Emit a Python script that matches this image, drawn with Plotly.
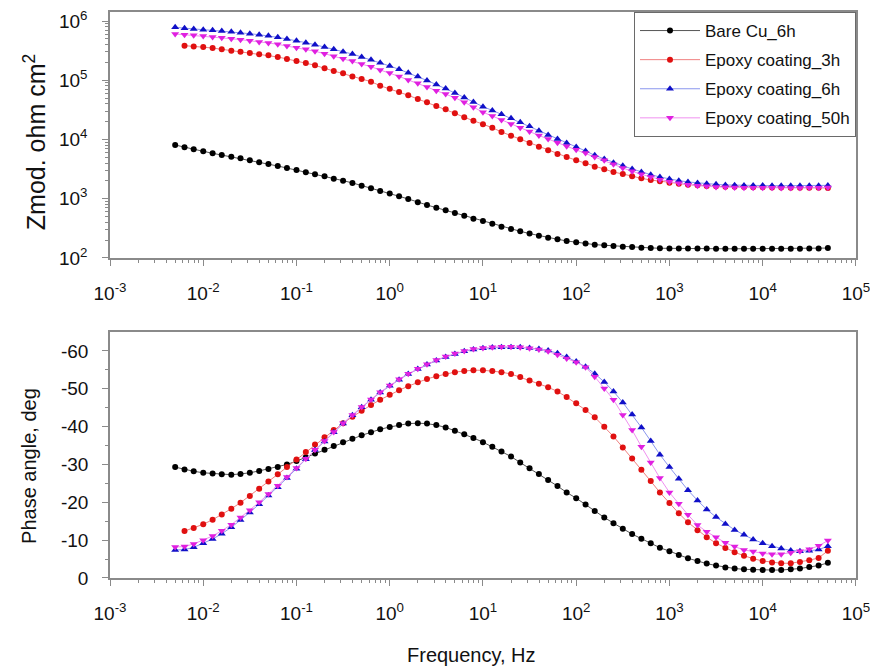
import plotly.graph_objects as go

# ---------------- data ----------------
freq = [0.005, 0.0063, 0.0079, 0.01, 0.0126, 0.0158, 0.02, 0.0251, 0.0316, 0.0398,
        0.05, 0.063, 0.079, 0.1, 0.126, 0.158, 0.2, 0.251, 0.316, 0.398,
        0.5, 0.63, 0.79, 1.0, 1.26, 1.58, 2.0, 2.51, 3.16, 3.98,
        5.0, 6.3, 7.9, 10, 12.6, 15.8, 20, 25.1, 31.6, 39.8,
        50, 63, 79, 100, 126, 158, 200, 251, 316, 398,
        500, 630, 790, 1000, 1260, 1580, 2000, 2510, 3160, 3980,
        5000, 6300, 7900, 10000, 12600, 15800, 20000, 25100, 31600, 39800,
        50000]

series_names = ["Bare Cu_6h", "Epoxy coating_3h", "Epoxy coating_6h", "Epoxy coating_50h"]

# |Z| (ohm cm^2)
zmod_bare6h = [8070, 7380, 6820, 6320, 5850, 5470, 5130, 4810, 4460, 4120,
               3860, 3570, 3300, 3050, 2790, 2580, 2390, 2180, 2020, 1850,
               1660, 1500, 1350, 1220, 1100, 991, 871, 785, 706, 637,
               574, 518, 461, 421, 379, 338, 308, 282, 258, 238,
               220, 207, 194, 184, 175, 168, 164, 160, 155, 153,
               149, 148, 146, 145, 145, 144, 144, 144, 143, 143,
               143, 143, 143, 143, 143, 143, 143, 143, 144, 145,
               147]
# Epoxy 3h starts at the second frequency
zmod_epoxy3h = [384000, 373000, 364000, 350000, 333000, 316000, 303000, 288000, 274000,
                264000, 247000, 229000, 211000, 195000, 179000, 159000, 143000, 131000, 116000,
                105000, 94600, 80900, 71900, 63400, 55700, 48300, 42400, 36700, 32300,
                27700, 23700, 20800, 18000, 15800, 13400, 11600, 10100, 8730, 7570,
                6560, 5690, 5070, 4460, 3960, 3480, 3140, 2820, 2620, 2390,
                2210, 2070, 1970, 1870, 1790, 1730, 1690, 1640, 1620, 1600,
                1590, 1580, 1570, 1560, 1550, 1550, 1540, 1540, 1530, 1530,
                1520]
zmod_epoxy6h = [782000, 752000, 733000, 713000, 695000, 678000, 661000, 635000, 611000, 587000,
                565000, 530000, 497000, 466000, 431000, 398000, 364000, 333000, 303000, 277000,
                247000, 222000, 198000, 174000, 153000, 134000, 116000, 99100, 84700, 72600,
                61000, 51200, 43000, 35800, 31000, 26600, 22800, 19500, 16700, 14100,
                11900, 10200, 8730, 7460, 6400, 5410, 4690, 4060, 3610, 3180,
                2820, 2550, 2330, 2150, 2020, 1920, 1850, 1790, 1750, 1710,
                1690, 1680, 1670, 1670, 1660, 1660, 1660, 1650, 1650, 1660,
                1680]
zmod_epoxy50h = [604000, 587000, 573000, 558000, 537000, 522000, 502000, 484000, 466000, 443000,
                 426000, 404000, 378000, 355000, 333000, 308000, 281000, 254000, 231000, 211000,
                 188000, 169000, 149000, 132000, 116000, 101000, 88700, 76900, 66700, 58600,
                 50800, 42700, 35100, 28800, 24900, 21300, 18300, 15800, 13600, 11700,
                 10200, 8830, 7670, 6730, 5920, 5070, 4460, 3810, 3300, 2900,
                 2580, 2330, 2100, 1940, 1820, 1730, 1660, 1620, 1580, 1560,
                 1550, 1540, 1530, 1530, 1530, 1520, 1520, 1520, 1530, 1540,
                 1550]

# phase angle (deg)
phase_bare6h = [-29.3, -28.7, -28.2, -27.8, -27.6, -27.4, -27.3, -27.5, -27.8, -28.3,
                -28.8, -29.3, -30.0, -30.9, -31.9, -32.9, -33.9, -34.9, -35.9, -36.8,
                -37.7, -38.5, -39.3, -39.9, -40.4, -40.8, -40.9, -40.8, -40.4, -39.8,
                -38.9, -38.0, -37.0, -35.9, -34.7, -33.4, -32.1, -30.5, -29.0, -27.5,
                -25.9, -24.3, -22.6, -21.1, -19.4, -17.7, -16.0, -14.5, -13.0, -11.6,
                -10.4, -9.2, -8.0, -7.1, -6.1, -5.2, -4.5, -3.8, -3.3, -2.8,
                -2.5, -2.3, -2.2, -2.1, -2.1, -2.1, -2.3, -2.5, -2.9, -3.3,
                -4.0]
phase_epoxy3h = [-12.4, -13.2, -14.2, -15.4, -16.8, -18.3, -19.9, -21.7, -23.6, -25.5,
                 -27.4, -29.3, -31.3, -33.3, -35.3, -37.2, -39.1, -40.9, -42.6, -44.2,
                 -45.7, -47.1, -48.4, -49.6, -50.7, -51.7, -52.6, -53.3, -53.9, -54.4,
                 -54.7, -54.9, -54.9, -54.7, -54.4, -53.9,
                 -53.1, -52.2, -51.3, -50.4, -49.3, -47.8, -46.2, -44.4, -42.5, -40.0,
                 -37.4, -34.5, -31.6, -28.6, -25.6, -22.6, -19.8, -17.1, -14.7, -12.6,
                 -10.8, -9.2, -7.9, -6.8, -5.9, -5.1, -4.5, -4.1, -3.9, -3.9,
                 -4.2, -4.7, -5.3, -7.2]
phase_epoxy6h = [-7.4, -7.5, -8.1, -9.2, -10.3, -11.7, -13.4, -15.3, -17.3, -19.5,
                 -21.8, -24.0, -26.4, -28.9, -31.4, -33.8, -36.1, -38.5, -40.8, -43.0,
                 -45.1, -47.1, -49.0, -50.8, -52.4, -53.9, -55.2, -56.4, -57.5, -58.4,
                 -59.2, -59.9, -60.4, -60.7, -60.9, -61.0, -61.0, -61.0, -60.8, -60.5,
                 -60.1, -59.4, -58.4, -57.2, -55.8, -54.0, -51.8, -49.3, -46.4, -43.2,
                 -39.8, -36.2, -32.6, -29.3, -26.2, -23.2, -20.5, -18.1, -16.1, -14.3,
                 -12.7, -11.4, -10.2, -9.2, -8.4, -7.8, -7.3, -7.1, -7.2, -7.5,
                 -8.4]
phase_epoxy50h = [-8.2, -8.3, -9.0, -10.0, -11.1, -12.5, -14.1, -16.0, -17.9, -20.0,
                  -22.2, -24.4, -26.7, -29.1, -31.5, -33.9, -36.2, -38.6, -40.9, -43.1,
                  -45.2, -47.2, -49.1, -50.9, -52.5, -54.0, -55.3, -56.5, -57.6, -58.5,
                  -59.3, -60.0, -60.5, -60.8, -61.0, -61.1, -61.1, -61.0, -60.7, -60.4,
                  -59.9, -59.0, -58.0, -57.0, -55.7, -53.2, -50.1, -47.1, -43.1, -39.1,
                  -34.7, -30.5, -26.4, -22.6, -19.6, -16.7, -14.0, -12.2, -10.8, -9.3,
                  -8.3, -7.4, -7.0, -6.5, -6.3, -6.3, -6.7, -7.1, -7.6, -8.5,
                  -9.9]

x_tickvals = [1e-3, 1e-2, 1e-1, 1e0, 1e1, 1e2, 1e3, 1e4, 1e5]
x_ticktext = ["10<sup>-3</sup>", "10<sup>-2</sup>", "10<sup>-1</sup>", "10<sup>0</sup>",
              "10<sup>1</sup>", "10<sup>2</sup>", "10<sup>3</sup>", "10<sup>4</sup>", "10<sup>5</sup>"]
z_tickvals = [1e2, 1e3, 1e4, 1e5, 1e6]
z_ticktext = ["10<sup>2</sup>", "10<sup>3</sup>", "10<sup>4</sup>", "10<sup>5</sup>", "10<sup>6</sup>"]
ph_tickvals = [0, -10, -20, -30, -40, -50, -60]
ph_ticktext = ["0", "-10", "-20", "-30", "-40", "-50", "-60"]
ph_minorvals = [-5, -15, -25, -35, -45, -55]

# ---------------- styles ----------------
styles = [
    dict(mc="#000000", lc="#555555", sym="circle", size=6),
    dict(mc="#e01010", lc="#f08080", sym="circle", size=6),
    dict(mc="#1010c8", lc="#8a96ee", sym="triangle-up", size=7),
    dict(mc="#e020e0", lc="#f090f0", sym="triangle-down", size=7),
]
FONT = "Liberation Sans, Arial, sans-serif"

fig = go.Figure()
zdata = [(freq, zmod_bare6h), (freq[1:], zmod_epoxy3h), (freq, zmod_epoxy6h), (freq, zmod_epoxy50h)]
pdata = [(freq, phase_bare6h), (freq[1:], phase_epoxy3h), (freq, phase_epoxy6h), (freq, phase_epoxy50h)]

for i, (name, st) in enumerate(zip(series_names, styles)):
    fx, fy = zdata[i]
    fig.add_trace(go.Scatter(
        x=fx, y=fy, name=name, mode="lines+markers", legendgroup=name,
        line=dict(color=st["lc"], width=1),
        marker=dict(color=st["mc"], symbol=st["sym"], size=st["size"], line=dict(width=0)),
        xaxis="x", yaxis="y"))
for i, (name, st) in enumerate(zip(series_names, styles)):
    fx, fy = pdata[i]
    fig.add_trace(go.Scatter(
        x=fx, y=fy, name=name, mode="lines+markers", legendgroup=name, showlegend=False,
        line=dict(color=st["lc"], width=1),
        marker=dict(color=st["mc"], symbol=st["sym"], size=st["size"], line=dict(width=0)),
        xaxis="x2", yaxis="y2"))

axis_common = dict(
    showline=True, linecolor="#8a8a8a", linewidth=1.5, mirror=True,
    showgrid=False, zeroline=False, automargin=False,
    ticks="outside", ticklen=6, tickwidth=1, tickcolor="#8a8a8a",
    tickfont=dict(family=FONT, size=19, color="#111111"),
)

xaxis_common = dict(axis_common, type="log", range=[-3, 5.0008],
                    tickmode="array", tickvals=x_tickvals, ticktext=x_ticktext,
                    ticklabelstandoff=11, ticklabeloverflow="allow",
                    minor=dict(ticks="outside", ticklen=3, tickcolor="#8a8a8a", dtick="D1", showgrid=False))

fig.update_layout(
    width=870, height=667,
    margin=dict(l=110, r=14, t=12, b=89, autoexpand=False),
    paper_bgcolor="white", plot_bgcolor="white",
    font=dict(family=FONT, color="#111111"),
    xaxis=dict(xaxis_common, domain=[0, 1], anchor="y"),
    yaxis=dict(axis_common, type="log", range=[2, 6.152], domain=[0.5654, 1.0], anchor="x",
               tickmode="array", tickvals=z_tickvals, ticktext=z_ticktext,
               ticklabelstandoff=11,
               minor=dict(ticks="outside", ticklen=3, tickcolor="#8a8a8a", dtick="D1", showgrid=False)),
    xaxis2=dict(xaxis_common, domain=[0, 1], anchor="y2"),
    yaxis2=dict(axis_common, range=[0, -65], domain=[0, 0.4346], anchor="x2",
                tickmode="array", tickvals=ph_tickvals, ticktext=ph_ticktext,
                ticklabelstandoff=10,
                minor=dict(ticks="outside", ticklen=3, tickcolor="#8a8a8a",
                           tickmode="array", tickvals=ph_minorvals, showgrid=False)),
    legend=dict(x=1, y=1, xanchor="right", yanchor="top",
                bgcolor="white", bordercolor="#6a6a6a", borderwidth=1,
                font=dict(family=FONT, size=17, color="#111111"),
                tracegroupgap=4, itemwidth=60),
    showlegend=True,
)

fig.add_annotation(text="Zmod. ohm cm<sup>2</sup>", xref="paper", yref="paper",
                   x=-0.1005, y=0.77, textangle=-90, showarrow=False,
                   xanchor="center", yanchor="middle",
                   font=dict(family=FONT, size=25, color="#111111"))
fig.add_annotation(text="Phase angle, deg", xref="paper", yref="paper",
                   x=-0.1086, y=0.198, textangle=-90, showarrow=False,
                   xanchor="center", yanchor="middle",
                   font=dict(family=FONT, size=20, color="#111111"))
fig.add_annotation(text="Frequency, Hz", xref="paper", yref="paper",
                   x=0.485, y=-0.136, showarrow=False,
                   xanchor="center", yanchor="middle",
                   font=dict(family=FONT, size=20, color="#111111"))

fig.write_html("out.html")
